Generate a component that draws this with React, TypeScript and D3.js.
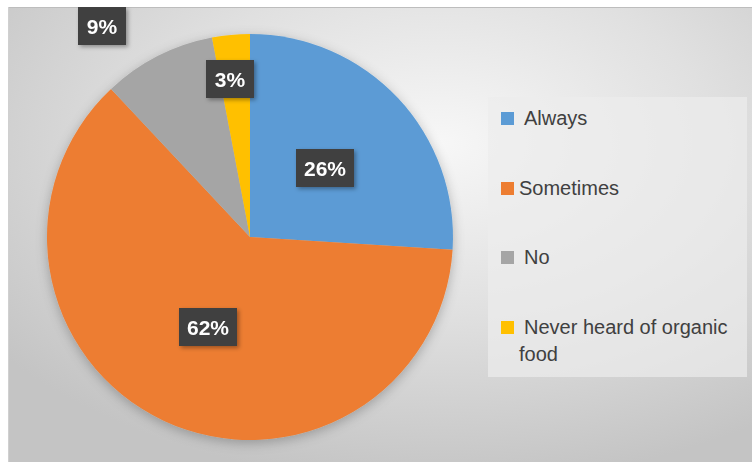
import React from "react";
import * as d3 from "d3";

const categories = ["Always", "Sometimes", "No", "Never heard of organic food"];
const values = [26, 62, 9, 3];
const labels = ["26%", "62%", "9%", "3%"];
const colors = ["#5B9BD5", "#ED7D31", "#A5A5A5", "#FFC000"];
const legendLines = [["Always"], ["Sometimes"], ["No"], ["Never heard of organic", "food"]];

const W = 752, H = 462;
const cx = 250, cy = 237, R = 203;

// label box centers
const labelPos: [number, number][] = [
  [325, 168],
  [208, 327],
  [102, 26],
  [230, 79],
];

export default function App() {
  const pie = d3.pie<number>().value((d) => d).sort(null).startAngle(0).endAngle(2 * Math.PI);
  const arcs = pie(values);
  const arc = d3.arc<d3.PieArcDatum<number>>().innerRadius(0).outerRadius(R);
  const legendRows = [125, 195, 264, 334];
  const legendTextX = [524, 519, 524, 524];

  return (
    <svg width={W} height={H} style={{ position: "absolute", left: 0, top: 0 }}>
      <defs>
        <radialGradient id="bg" cx="0.58" cy="0.3" r="0.75">
          <stop offset="0" stopColor="#f7f7f7" />
          <stop offset="0.5" stopColor="#e0e0e0" />
          <stop offset="1" stopColor="#c4c4c4" />
        </radialGradient>
        <filter id="pieShadow" x="-20%" y="-20%" width="140%" height="140%">
          <feGaussianBlur in="SourceAlpha" stdDeviation="6" />
          <feOffset dx="0" dy="3" result="b" />
          <feFlood floodColor="#000" floodOpacity="0.25" />
          <feComposite in2="b" operator="in" />
          <feMerge>
            <feMergeNode />
            <feMergeNode in="SourceGraphic" />
          </feMerge>
        </filter>
        <filter id="boxShadow" x="-30%" y="-30%" width="160%" height="160%">
          <feGaussianBlur in="SourceAlpha" stdDeviation="2" />
          <feOffset dx="2" dy="2" result="b" />
          <feFlood floodColor="#000" floodOpacity="0.35" />
          <feComposite in2="b" operator="in" />
          <feMerge>
            <feMergeNode />
            <feMergeNode in="SourceGraphic" />
          </feMerge>
        </filter>
        <clipPath id="frameClip">
          <rect x={8} y={7} width={W - 8} height={H - 7} />
        </clipPath>
      </defs>
      <rect x={0} y={0} width={W} height={H} fill="#ffffff" />
      <g clipPath="url(#frameClip)">
        <rect x={8} y={7} width={W - 8} height={H - 7} fill="url(#bg)" />
        <line x1={8} y1={7.5} x2={W} y2={7.5} stroke="#bdbdbd" strokeWidth={1} />
        <line x1={8.5} y1={7} x2={8.5} y2={H} stroke="#d0d0d0" strokeWidth={1} />
        <g transform={`translate(${cx},${cy})`} filter="url(#pieShadow)">
          {arcs.map((a, i) => (
            <path key={i} d={arc(a) || ""} fill={colors[i]} />
          ))}
        </g>
        {labels.map((t, i) => {
          const [x, y] = labelPos[i];
          const w = t.length === 2 ? 48 : 58;
          const h = 38;
          return (
            <g key={i} filter="url(#boxShadow)">
              <rect x={x - w / 2} y={y - h / 2} width={w} height={h} fill="#3f3f3f" />
              <text
                x={x}
                y={y + 7.5}
                textAnchor="middle"
                fill="#ffffff"
                fontFamily="'Liberation Sans', Arial, sans-serif"
                fontWeight="bold"
                fontSize={21}
              >
                {t}
              </text>
            </g>
          );
        })}
        <rect x={488} y={97} width={259} height={280} fill="#ececec" opacity={0.7} />
        {categories.map((c, i) => (
          <g key={c}>
            <rect x={501} y={legendRows[i] - 13} width={13} height={13} fill={colors[i]} />
            {legendLines[i].map((ln, j) => (
              <text
                key={j}
                x={j === 0 ? legendTextX[i] : 519}
                y={legendRows[i] + j * 27}
                fill="#404040"
                fontFamily="'Liberation Sans', Arial, sans-serif"
                fontSize={20}
              >
                {ln}
              </text>
            ))}
          </g>
        ))}
      </g>
    </svg>
  );
}
